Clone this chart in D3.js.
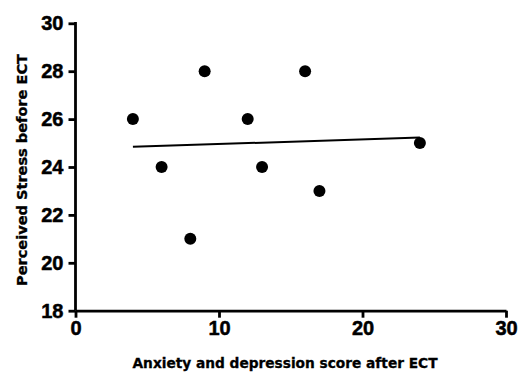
<!DOCTYPE html>
<html>
<head>
<meta charset="utf-8">
<script src="https://cdn.jsdelivr.net/npm/d3@7"></script>
<style>
  body { margin: 0; background: #fff; }
  .tick text { font-family: "Liberation Sans", Arial, sans-serif; font-weight: bold; font-size: 20px; fill: #000; stroke: #000; stroke-width: 0.5px; }
  .title { font-family: "DejaVu Sans Condensed", "Liberation Sans Narrow", "DejaVu Sans", sans-serif; font-weight: bold; font-size: 14.5px; fill: #000; stroke: #000; stroke-width: 0.3px; }
</style>
</head>
<body>
<div id="chart"></div>
<script>
'use strict';

// data
const anxietyAfter = [4, 6, 9, 8, 12, 13, 16, 17, 24];
const stressBefore = [26, 24, 28, 21, 26, 24, 28, 23, 25];
const xTicks = [0, 10, 20, 30];
const yTicks = [18, 20, 22, 24, 26, 28, 30];

const width = 518, height = 374;
const margin = { top: 23.3, right: 12, bottom: 63.3, left: 75.5 };

const svg = d3.select('#chart').append('svg')
  .attr('width', width)
  .attr('height', height);

const x = d3.scaleLinear().domain([0, 30]).range([margin.left, width - margin.right]);
const y = d3.scaleLinear().domain([18, 30]).range([height - margin.bottom, margin.top]);

// axes
const xAxis = d3.axisBottom(x).tickValues(xTicks).tickSize(7).tickSizeOuter(0).tickPadding(3);
const yAxis = d3.axisLeft(y).tickValues(yTicks).tickSize(7).tickSizeOuter(0).tickPadding(5);

const gx = svg.append('g')
  .attr('transform', 'translate(0,' + y(18) + ')')
  .call(xAxis);
const gy = svg.append('g')
  .attr('transform', 'translate(' + x(0) + ',0)')
  .call(yAxis);

[gx, gy].forEach(g => {
  g.selectAll('path, line').attr('stroke', '#000').attr('stroke-width', 2.8);
});
gy.select('.domain').attr('d', 'M0,' + (y(30) - 1.4) + 'V' + y(18));

// linear regression line through the points
const points = anxietyAfter.map((v, i) => ({ x: v, y: stressBefore[i] }));
const mx = d3.mean(points, d => d.x), my = d3.mean(points, d => d.y);
const slope = d3.sum(points, d => (d.x - mx) * (d.y - my)) / d3.sum(points, d => (d.x - mx) * (d.x - mx));
const intercept = my - slope * mx;
const xr = d3.extent(anxietyAfter);

svg.append('path')
  .datum(xr.map(v => [v, intercept + slope * v]))
  .attr('fill', 'none')
  .attr('stroke', '#000')
  .attr('stroke-width', 2)
  .attr('d', d3.line().x(d => x(d[0])).y(d => y(d[1])));

// points
svg.selectAll('.dot')
  .data(points)
  .join('circle')
  .attr('class', 'dot')
  .attr('cx', d => x(d.x))
  .attr('cy', d => y(d.y))
  .attr('r', 6)
  .attr('fill', '#000');

// titles
svg.append('text')
  .attr('class', 'title')
  .attr('x', 285)
  .attr('y', 367.5)
  .attr('text-anchor', 'middle')
  .attr('textLength', 305)
  .attr('lengthAdjust', 'spacingAndGlyphs')
  .text('Anxiety and depression score after ECT');

svg.append('text')
  .attr('class', 'title')
  .attr('transform', 'translate(26.5,170) rotate(-90)')
  .attr('text-anchor', 'middle')
  .attr('textLength', 232)
  .attr('lengthAdjust', 'spacingAndGlyphs')
  .text('Perceived Stress before ECT');
</script>
</body>
</html>
